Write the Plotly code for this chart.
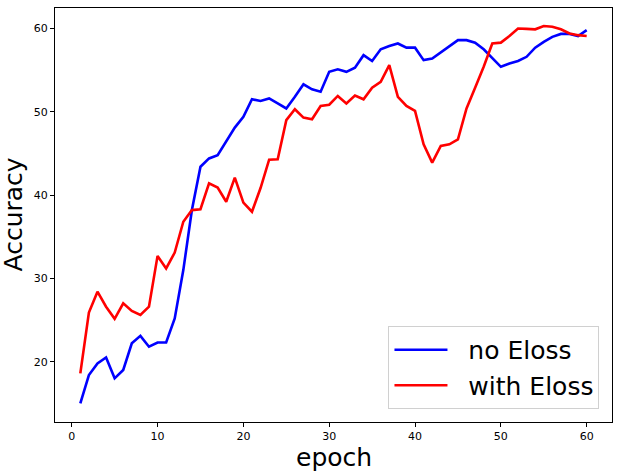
import plotly.graph_objects as go

epochs = list(range(1, 61))
no_eloss = [15.0, 18.4, 19.8, 20.5, 18.0, 19.0, 22.2, 23.1, 21.8, 22.3,
            22.3, 25.2, 31.0, 38.2, 43.4, 44.4, 44.8, 46.5, 48.1, 49.4,
            51.5, 51.3, 51.6, 51.0, 50.4, 51.8, 53.3, 52.7, 52.4, 54.8,
            55.1, 54.8, 55.3, 56.8, 56.1, 57.5, 57.9, 58.2, 57.7, 57.7,
            56.2, 56.4, 57.1, 57.9, 58.6, 58.6, 58.3, 57.5, 56.5, 55.4,
            55.8, 56.1, 56.6, 57.7, 58.4, 59.0, 59.35, 59.35, 59.1, 59.8]
with_eloss = [18.6, 25.9, 28.4, 26.6, 25.15, 27.0, 26.1, 25.6, 26.6, 32.7,
              31.2, 33.1, 36.8, 38.2, 38.3, 41.4, 40.9, 39.2, 42.1, 39.1,
              38.0, 40.85, 44.25, 44.3, 49.0, 50.3, 49.3, 49.1, 50.7, 50.85,
              51.9, 51.0, 51.95, 51.5, 52.9, 53.6, 55.6, 51.8, 50.7, 50.1,
              46.1, 43.9, 45.9, 46.1, 46.7, 50.4, 52.9, 55.4, 58.2, 58.3,
              59.1, 60.0, 59.95, 59.9, 60.3, 60.2, 59.9, 59.4, 59.2, 59.1]
x_ticks = [0, 10, 20, 30, 40, 50, 60]
y_ticks = [20, 30, 40, 50, 60]

fig = go.Figure()
fig.add_trace(go.Scatter(x=epochs, y=no_eloss, mode="lines", name="  no Eloss",
                         line=dict(color="#0000ff", width=2.6)))
fig.add_trace(go.Scatter(x=epochs, y=with_eloss, mode="lines", name="  with Eloss",
                         line=dict(color="#ff0000", width=2.6)))

axis_common = dict(showline=True, linecolor="black", linewidth=1.2, mirror=True,
                   ticks="outside", ticklen=4, tickwidth=1, tickcolor="black",
                   showgrid=False, zeroline=False, automargin=False,
                   tickfont=dict(family="DejaVu Sans", size=11, color="black"))

fig.update_layout(
    width=620, height=474,
    margin=dict(l=55, r=8, t=8, b=52),
    paper_bgcolor="white", plot_bgcolor="white",
    font=dict(family="DejaVu Sans", color="black"),
    xaxis=dict(range=[-1.95, 62.95], tickvals=x_ticks, **axis_common),
    yaxis=dict(range=[12.76, 62.46], tickvals=y_ticks, **axis_common),
    legend=dict(x=0.9775, y=0.0315, xanchor="right", yanchor="bottom",
                bgcolor="rgba(255,255,255,0.8)", bordercolor="#d0d0d0", borderwidth=1,
                font=dict(size=25, family="DejaVu Sans", color="black"),
                itemwidth=53, tracegroupgap=0),
    showlegend=True,
    annotations=[
        dict(text="epoch", xref="paper", yref="paper", x=0.5, y=0,
             xanchor="center", yanchor="middle", yshift=-35, showarrow=False,
             font=dict(size=25, family="DejaVu Sans", color="black")),
        dict(text="Accuracy", xref="paper", yref="paper", x=0, y=0.5,
             xanchor="center", yanchor="middle", xshift=-42.5, textangle=-90,
             showarrow=False,
             font=dict(size=25, family="DejaVu Sans", color="black")),
    ],
)

fig.write_html("out.html", config={"displayModeBar": False},
               post_script="document.body.style.margin='0';document.body.style.padding='0';")
